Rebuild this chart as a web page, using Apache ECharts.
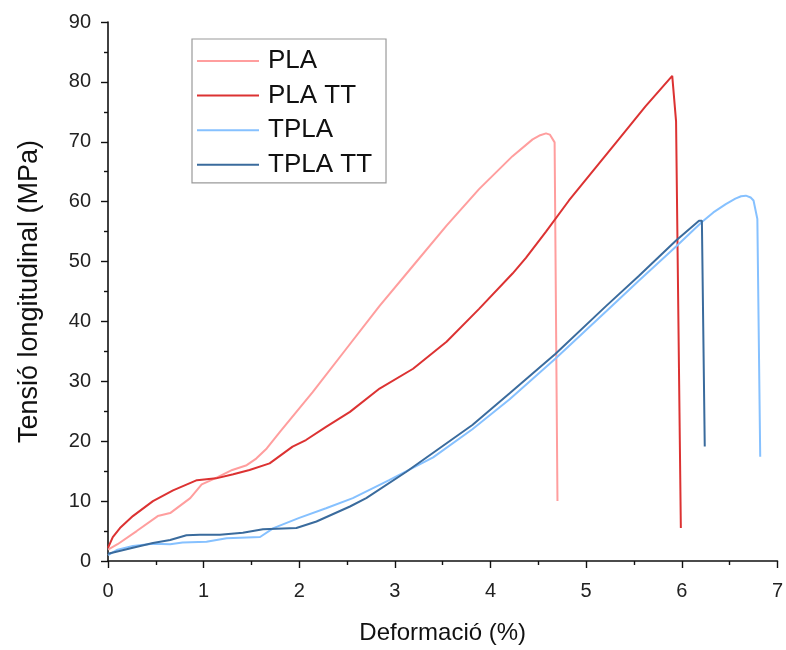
<!DOCTYPE html>
<html>
<head>
<meta charset="utf-8">
<script src="https://cdn.jsdelivr.net/npm/echarts@6/dist/echarts.min.js"></script>
<style>
  html, body { margin: 0; padding: 0; background: #fff; }
  #chart { width: 786px; height: 650px; }
</style>
</head>
<body>
<div id="chart"></div>
<script>
// Stress–strain curves: deformation (%) vs longitudinal stress (MPa)
const seriesNames = ['PLA', 'PLA TT', 'TPLA', 'TPLA TT'];

const plaX = [0, 0.1, 0.3, 0.52, 0.65, 0.86, 0.98, 1.12, 1.3, 1.45, 1.55, 1.66, 1.8, 2.14, 2.49, 2.84, 3.19, 3.54, 3.88, 4.23, 4.44, 4.52, 4.58, 4.62, 4.67, 4.70];
const plaY = [1.9, 2.8, 5.0, 7.5, 8.0, 10.5, 12.8, 13.8, 15.2, 16.0, 17.1, 18.8, 21.6, 28.2, 35.4, 42.6, 49.3, 56.0, 62.1, 67.6, 70.4, 71.1, 71.4, 71.2, 69.9, 10.0];

const plaTtX = [0, 0.05, 0.125, 0.26, 0.47, 0.68, 0.93, 1.13, 1.31, 1.48, 1.69, 1.93, 2.07, 2.28, 2.53, 2.84, 3.19, 3.54, 3.88, 4.23, 4.37, 4.58, 4.82, 5.34, 5.62, 5.90, 5.94, 5.99];
const plaTtY = [2.2, 4.0, 5.5, 7.5, 10.0, 11.8, 13.5, 13.8, 14.5, 15.2, 16.3, 19.1, 20.2, 22.4, 24.9, 28.8, 32.1, 36.6, 42.1, 48.0, 50.6, 55.0, 60.2, 70.4, 75.9, 81.0, 73.4, 5.5];

const tplaX = [0, 0.1, 0.26, 0.47, 0.65, 0.78, 1.03, 1.24, 1.59, 1.73, 2.0, 2.28, 2.56, 2.94, 3.4, 3.81, 4.2, 4.68, 5.21, 5.55, 5.94, 6.21, 6.33, 6.46, 6.56, 6.62, 6.67, 6.72, 6.75, 6.79, 6.82];
const tplaY = [1.0, 1.9, 2.5, 2.9, 2.8, 3.1, 3.2, 3.8, 4.0, 5.5, 7.2, 8.8, 10.5, 13.5, 17.3, 22.0, 27.0, 33.8, 41.7, 46.8, 52.5, 56.6, 58.2, 59.6, 60.5, 60.9, 61.0, 60.7, 60.2, 57.1, 17.4];

const tplaTtX = [0, 0.26, 0.47, 0.65, 0.82, 0.96, 1.17, 1.41, 1.62, 1.97, 2.18, 2.53, 2.70, 3.12, 3.81, 4.2, 4.68, 5.21, 5.55, 5.94, 6.18, 6.21, 6.24];
const tplaTtY = [1.2, 2.2, 3.0, 3.5, 4.3, 4.4, 4.4, 4.7, 5.3, 5.5, 6.6, 9.1, 10.5, 14.9, 22.7, 28.0, 34.6, 42.6, 47.6, 53.5, 56.8, 56.8, 19.1];

const colors = ['#ff9e9e', '#dc3232', '#86c1ff', '#3a6b9d'];

function pairs(xs, ys) {
  return xs.map((x, i) => [x, ys[i]]);
}

const curves = [
  pairs(plaX, plaY),
  pairs(plaTtX, plaTtY),
  pairs(tplaX, tplaY),
  pairs(tplaTtX, tplaTtY)
];

const axisFont = 'Liberation Sans, Arial, sans-serif';

const chart = echarts.init(document.getElementById('chart'), null, { renderer: 'canvas' });

chart.setOption({
  animation: false,
  backgroundColor: '#ffffff',
  color: colors,
  grid: { left: 108, right: 7, top: 22, bottom: 87, containLabel: false },
  legend: {
    data: seriesNames,
    orient: 'vertical',
    left: 192,
    top: 39,
    padding: [9, 14, 5, 5],
    itemWidth: 62,
    itemHeight: 2,
    itemGap: 8.6,
    icon: 'rect',
    borderColor: '#9a9a9a',
    borderWidth: 1.2,
    backgroundColor: '#ffffff',
    textStyle: { fontFamily: axisFont, fontSize: 26, color: '#111', lineHeight: 26, padding: [0, 0, 0, 4] }
  },
  xAxis: {
    type: 'value',
    min: 0,
    max: 7,
    interval: 1,
    name: 'Deformació (%)',
    nameLocation: 'middle',
    nameGap: 60,
    nameTextStyle: { fontFamily: axisFont, fontSize: 24, color: '#111' },
    axisLine: { show: true, onZero: false, lineStyle: { color: '#111', width: 1.6 } },
    axisTick: { show: true, inside: false, length: 7, lineStyle: { color: '#111', width: 1.4 } },
    minorTick: { show: true, splitNumber: 2, length: 4, lineStyle: { color: '#111', width: 1.4 } },
    axisLabel: { fontFamily: axisFont, fontSize: 20, color: '#222', margin: 20 },
    splitLine: { show: false }
  },
  yAxis: {
    type: 'value',
    min: 0,
    max: 90,
    interval: 10,
    name: 'Tensió longitudinal (MPa)',
    nameLocation: 'middle',
    nameGap: 65,
    nameTextStyle: { fontFamily: axisFont, fontSize: 27, color: '#111' },
    axisLine: { show: true, onZero: false, lineStyle: { color: '#111', width: 1.6 } },
    axisTick: { show: true, inside: false, length: 7, lineStyle: { color: '#111', width: 1.4 } },
    minorTick: { show: true, splitNumber: 2, length: 4, lineStyle: { color: '#111', width: 1.4 } },
    axisLabel: { fontFamily: axisFont, fontSize: 20, color: '#222', margin: 17 },
    splitLine: { show: false }
  },
  series: seriesNames.map((name, i) => ({
    name: name,
    type: 'line',
    data: curves[i],
    symbol: 'none',
    smooth: false,
    lineStyle: { width: 2, color: colors[i] },
    itemStyle: { color: colors[i] }
  }))
});
</script>
</body>
</html>
